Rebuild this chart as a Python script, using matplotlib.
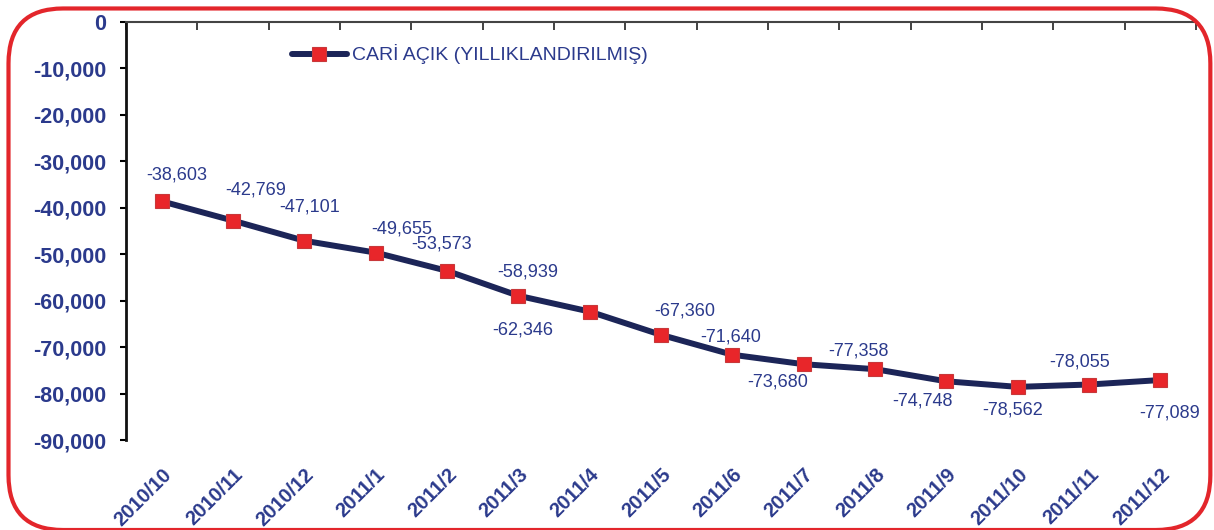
import matplotlib.pyplot as plt
from matplotlib.patches import FancyBboxPatch
from matplotlib.ticker import FuncFormatter, FixedLocator

plt.rcParams['font.family'] = ['Liberation Sans', 'DejaVu Sans']

months = ['2010/10', '2010/11', '2010/12', '2011/1', '2011/2', '2011/3', '2011/4',
          '2011/5', '2011/6', '2011/7', '2011/8', '2011/9', '2011/10', '2011/11', '2011/12']
deficit = [-38603, -42769, -47101, -49655, -53573, -58939, -62346,
           -67360, -71640, -73680, -74748, -77358, -78562, -78055, -77089]
# labels as printed in the source chart (2011/8 and 2011/9 are swapped there)
point_labels = ['-38,603', '-42,769', '-47,101', '-49,655', '-53,573', '-58,939', '-62,346',
                '-67,360', '-71,640', '-73,680', '-77,358', '-74,748', '-78,562', '-78,055', '-77,089']
# label offsets in points (dx, dy)
label_offsets = [(11, 19), (16, 22), (4, 24), (19, 17), (-4, 19), (7, 17), (-48, -13),
                 (17, 17), (-1, 13), (-19, -13), (-12, 13), (-17, -14), (-4, -17), (-7, 16), (7, -24)]

blue = '#2b3a8c'
navy = '#1c2558'
red = '#e8262a'

fig = plt.figure(figsize=(12.14, 5.30), dpi=100)
ax = fig.add_axes([0.1038, 0.1698, 0.8814, 0.7887])

x = list(range(len(months)))
ax.plot(x, deficit, color=navy, lw=4.3, solid_joinstyle='round', solid_capstyle='round',
        marker='s', markersize=9.5, markerfacecolor=red, markeredgecolor='#c8383a',
        markeredgewidth=0.8, label='CARİ AÇIK (YILLIKLANDIRILMIŞ)', zorder=3)

for xi, yi, lab, off in zip(x, deficit, point_labels, label_offsets):
    ax.annotate(lab, (xi, yi), xytext=off, textcoords='offset points',
                ha='center', va='center', fontsize=13, color=blue)

ax.set_xlim(-0.5, len(months) - 0.5)
ax.set_ylim(-90000, 0)
ax.set_yticks(range(-90000, 1, 10000))
ax.yaxis.set_major_formatter(FuncFormatter(lambda v, p: f'{int(v):,}'))
ax.tick_params(axis='y', direction='out', length=4, width=1.5, pad=10,
               labelsize=15.5, labelcolor=blue)
for t in ax.get_yticklabels():
    t.set_fontweight('bold')

# boundary ticks on the top axis, category labels at the bottom
ax.xaxis.set_major_locator(FixedLocator([i - 0.5 for i in range(len(months) + 1)]))
ax.xaxis.set_minor_locator(FixedLocator(x))
ax.set_xticklabels(months, minor=True, rotation=45, ha='right', rotation_mode='anchor',
                   fontsize=14.5, fontweight='bold', color=blue)
ax.tick_params(axis='x', which='major', top=True, bottom=False, labelbottom=False,
               direction='in', length=6, width=1.3, color='#333333')
ax.tick_params(axis='x', which='minor', top=False, bottom=True, labelbottom=True,
               length=0, pad=18)

for s in ['right', 'bottom']:
    ax.spines[s].set_visible(False)
ax.spines['left'].set_linewidth(2)
ax.spines['left'].set_color('#111111')
ax.spines['top'].set_linewidth(1.5)
ax.spines['top'].set_color('#444444')

leg = ax.legend(loc='upper left', bbox_to_anchor=(0.148, 0.965), frameon=False,
                fontsize=14, handlelength=2.8, handletextpad=0.3, borderaxespad=0)
for t in leg.get_texts():
    t.set_color(blue)

border = FancyBboxPatch((0.007, 0.0), 0.99, 0.984, boxstyle='round,pad=0,rounding_size=0.045',
                        transform=fig.transFigure, fill=False, edgecolor='#e3262b',
                        lw=3, mutation_aspect=2.3)
fig.patches.append(border)

fig.savefig('out.png', dpi=100)
